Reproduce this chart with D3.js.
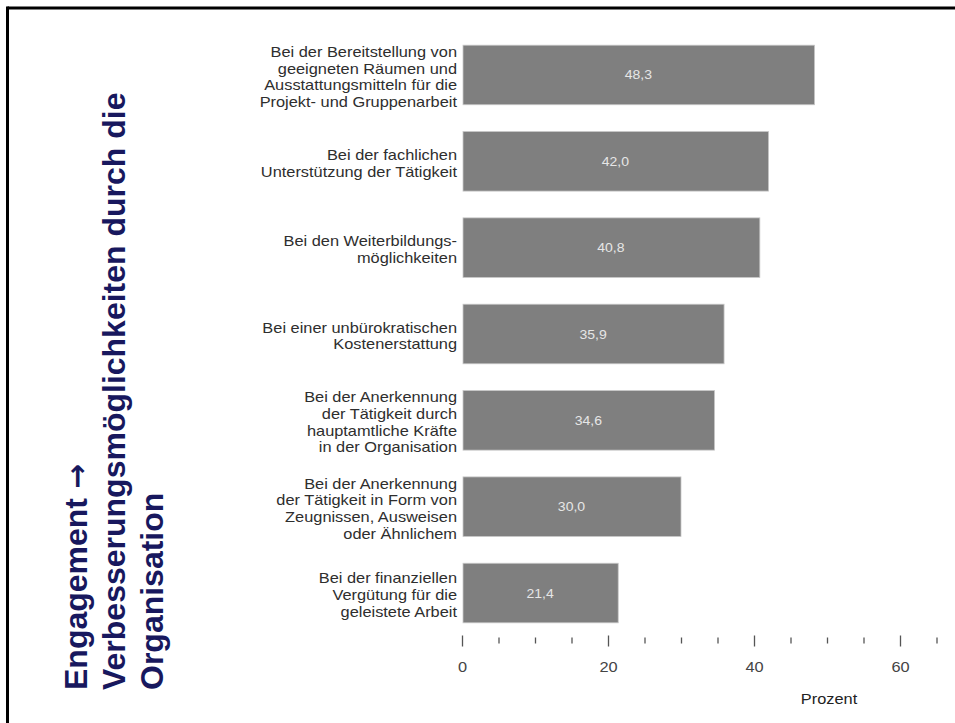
<!DOCTYPE html>
<html><head><meta charset="utf-8">
<script src="https://cdn.jsdelivr.net/npm/d3@7"></script>
<style>body{margin:0;background:#fff}svg{display:block}</style>
</head><body>
<svg id="chart" width="955" height="723"></svg>
<script>
const categories = [
  ["Bei der Bereitstellung von","geeigneten Räumen und","Ausstattungsmitteln für die","Projekt- und Gruppenarbeit"],
  ["Bei der fachlichen","Unterstützung der Tätigkeit"],
  ["Bei den Weiterbildungs-","möglichkeiten"],
  ["Bei einer unbürokratischen","Kostenerstattung"],
  ["Bei der Anerkennung","der Tätigkeit durch","hauptamtliche Kräfte","in der Organisation"],
  ["Bei der Anerkennung","der Tätigkeit in Form von","Zeugnissen, Ausweisen","oder Ähnlichem"],
  ["Bei der finanziellen","Vergütung für die","geleistete Arbeit"]
];
const values = [48.3, 42.0, 40.8, 35.9, 34.6, 30.0, 21.4];
const majorTicks = [0, 20, 40, 60];
const minorTicks = [5, 10, 15, 25, 30, 35, 45, 50, 55, 65];
const axisTitle = "Prozent";
const titleLines = [["Engagement ", "\u2192"], ["Verbesserungsmöglichkeiten durch die"], ["Organisation"]];

const svg = d3.select("#chart");
const SX = 1.17;

// frame
svg.append("line").attr("x1",7.5).attr("x2",955).attr("y1",8).attr("y2",8).attr("stroke","#000").attr("stroke-width",3);
svg.append("line").attr("x1",7.5).attr("x2",7.5).attr("y1",6.5).attr("y2",723).attr("stroke","#000").attr("stroke-width",3);

// title
const tg = svg.append("g").attr("transform","translate(0,690) rotate(-90)");
titleLines.forEach((parts,i)=>{
  const t = tg.append("text").attr("x",0).attr("y",87 + i*38)
    .attr("font-family","'Liberation Sans', Arial, sans-serif")
    .attr("font-weight","bold").attr("font-size",32).attr("fill","#18185e");
  t.append("tspan").text(parts[0]);
  if (parts[1]) t.append("tspan").attr("font-family","'DejaVu Sans', sans-serif").attr("font-size",30).text(parts[1]);
});

const x = d3.scaleLinear().domain([0,60]).range([462,900]);
const idx = d3.range(values.length);
const y = d3.scaleBand().domain(idx).range([31.8, 636.2]).paddingInner(0.31).paddingOuter(0.155);

// bars
svg.append("g").selectAll("rect").data(idx).join("rect")
  .attr("x", x(0)+1).attr("y", d=>y(d))
  .attr("width", d=>x(values[d])-x(0)-1).attr("height", y.bandwidth())
  .attr("fill","#7f7f7f").attr("stroke","#c8c8c8").attr("stroke-width",0.8);

const fmt = v => v.toFixed(1).replace(".", ",");

// value labels
svg.append("g").selectAll("text").data(idx).join("text")
  .attr("transform", d=>`translate(${(x(0)+x(values[d]))/2},${y(d)+y.bandwidth()/2+4.5}) scale(${SX},1)`)
  .attr("text-anchor","middle")
  .attr("font-family","'Liberation Sans', Arial, sans-serif")
  .attr("font-size",12).attr("fill","#e6e6e6").text(d=>fmt(values[d]));

// category labels
const lh = 16.7;
const lg = svg.append("g");
idx.forEach(d=>{
  const lines = categories[d];
  const cy = y(d)+y.bandwidth()/2 + 2;
  lines.forEach((t,j)=>{
    const ly = cy + (j - (lines.length-1)/2)*lh + 5;
    lg.append("text").attr("transform",`translate(457,${ly}) scale(${SX},1)`)
      .attr("text-anchor","end")
      .attr("font-family","'Liberation Sans', Arial, sans-serif")
      .attr("font-size",14).attr("fill","#2e2e2e").text(t);
  });
});

// axis
const axisMajor = d3.axisBottom(x).tickValues(majorTicks).tickSize(11).tickPadding(16).tickFormat(d3.format("d"));
const ag = svg.append("g").attr("transform","translate(0,635.5)").call(axisMajor);
ag.select(".domain").remove();
ag.selectAll(".tick line").attr("stroke","#555").attr("stroke-width",1.3);
ag.selectAll(".tick text")
  .attr("font-family","'Liberation Sans', Arial, sans-serif")
  .attr("font-size",14).attr("fill","#444")
  .attr("transform",`scale(${SX},1)`);

const axisMinor = d3.axisBottom(x).tickValues(minorTicks).tickSize(6).tickFormat("");
const mg = svg.append("g").attr("transform","translate(0,637.5)").call(axisMinor);
mg.select(".domain").remove();
mg.selectAll(".tick line").attr("stroke","#555").attr("stroke-width",1.3);

svg.append("text").attr("transform",`translate(829,704) scale(${SX},1)`).attr("text-anchor","middle")
  .attr("font-family","'Liberation Sans', Arial, sans-serif")
  .attr("font-size",14).attr("fill","#222").text(axisTitle);
</script>
</body></html>
